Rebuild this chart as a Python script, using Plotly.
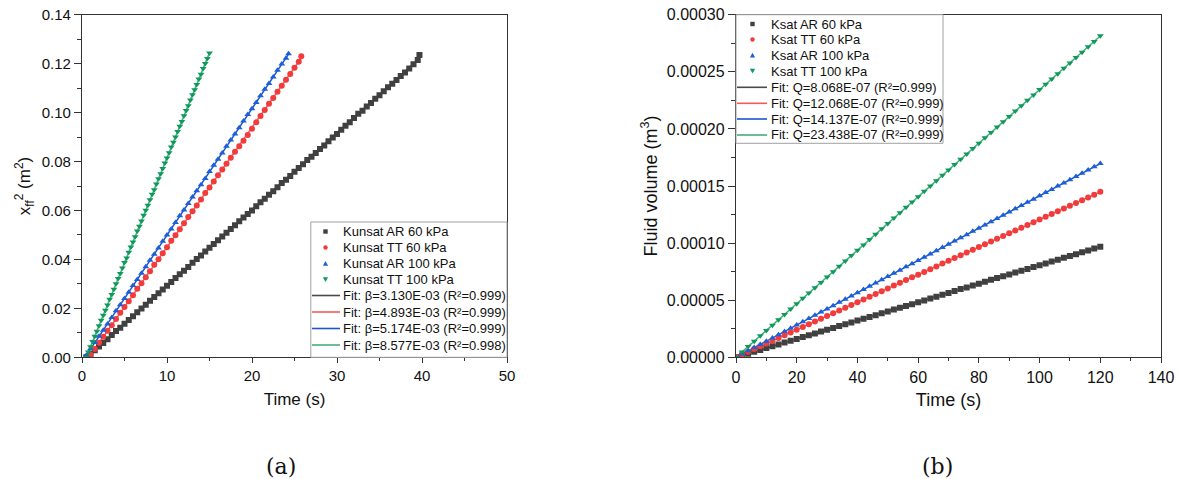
import plotly.graph_objects as go

# ---------------- Panel (a): x_ff^2 vs time ----------------
t_ar60 = [0.5, 1.0, 1.5, 2.0, 2.5, 3.0, 3.5, 4.0, 4.5, 5.0, 5.5, 6.0, 6.5, 7.0, 7.5, 8.0, 8.5, 9.0, 9.5, 10.0,
          10.5, 11.0, 11.5, 12.0, 12.5, 13.0, 13.5, 14.0, 14.5, 15.0, 15.5, 16.0, 16.5, 17.0, 17.5, 18.0, 18.5, 19.0, 19.5, 20.0,
          20.5, 21.0, 21.5, 22.0, 22.5, 23.0, 23.5, 24.0, 24.5, 25.0, 25.5, 26.0, 26.5, 27.0, 27.5, 28.0, 28.5, 29.0, 29.5, 30.0,
          30.5, 31.0, 31.5, 32.0, 32.5, 33.0, 33.5, 34.0, 34.5, 35.0, 35.5, 36.0, 36.5, 37.0, 37.5, 38.0, 38.5, 39.0, 39.5, 39.7]
x2_ar60 = [0.0000, 0.0013, 0.0029, 0.0044, 0.0058, 0.0074, 0.0091, 0.0107, 0.0121, 0.0137, 0.0152, 0.0168, 0.0184, 0.0199, 0.0215, 0.0231, 0.0246, 0.0262, 0.0277, 0.0292,
           0.0308, 0.0324, 0.0339, 0.0354, 0.0369, 0.0386, 0.0402, 0.0416, 0.0432, 0.0448, 0.0463, 0.0478, 0.0494, 0.0509, 0.0524, 0.0540, 0.0556, 0.0571, 0.0586, 0.0600,
           0.0617, 0.0634, 0.0648, 0.0664, 0.0679, 0.0695, 0.0712, 0.0726, 0.0741, 0.0758, 0.0774, 0.0789, 0.0806, 0.0820, 0.0835, 0.0851, 0.0866, 0.0883, 0.0898, 0.0912,
           0.0930, 0.0946, 0.0960, 0.0978, 0.0995, 0.1008, 0.1025, 0.1039, 0.1057, 0.1071, 0.1087, 0.1104, 0.1118, 0.1133, 0.1149, 0.1164, 0.1180, 0.1198, 0.1215, 0.1235]

t_tt60 = [1.0, 1.5, 2.0, 2.5, 3.0, 3.5, 4.0, 4.5, 5.0, 5.5, 6.0, 6.5, 7.0, 7.5, 8.0, 8.5, 9.0, 9.5, 10.0,
          10.5, 11.0, 11.5, 12.0, 12.5, 13.0, 13.5, 14.0, 14.5, 15.0, 15.5, 16.0, 16.5, 17.0, 17.5, 18.0, 18.5, 19.0, 19.5, 20.0,
          20.5, 21.0, 21.5, 22.0, 22.5, 23.0, 23.5, 24.0, 24.5, 25.0, 25.5, 25.8]
x2_tt60 = [0.0010, 0.0034, 0.0059, 0.0084, 0.0108, 0.0131, 0.0157, 0.0182, 0.0206, 0.0229, 0.0254, 0.0280, 0.0303, 0.0327, 0.0352, 0.0378, 0.0401, 0.0425, 0.0450,
           0.0476, 0.0499, 0.0523, 0.0548, 0.0573, 0.0597, 0.0620, 0.0645, 0.0671, 0.0694, 0.0718, 0.0744, 0.0767, 0.0791, 0.0815, 0.0840, 0.0862, 0.0885, 0.0908, 0.0934,
           0.0960, 0.0986, 0.1011, 0.1036, 0.1060, 0.1085, 0.1110, 0.1134, 0.1158, 0.1183, 0.1208, 0.1230]

t_ar100 = [0.5, 1.0, 1.5, 2.0, 2.5, 3.0, 3.5, 4.0, 4.5, 5.0, 5.5, 6.0, 6.5, 7.0, 7.5, 8.0, 8.5, 9.0, 9.5, 10.0,
           10.5, 11.0, 11.5, 12.0, 12.5, 13.0, 13.5, 14.0, 14.5, 15.0, 15.5, 16.0, 16.5, 17.0, 17.5, 18.0, 18.5, 19.0, 19.5, 20.0,
           20.5, 21.0, 21.5, 22.0, 22.5, 23.0, 23.5, 24.0, 24.3]
x2_ar100 = [0.0008, 0.0035, 0.0060, 0.0086, 0.0111, 0.0136, 0.0163, 0.0190, 0.0215, 0.0240, 0.0266, 0.0293, 0.0318, 0.0343, 0.0370, 0.0397, 0.0421, 0.0447, 0.0474, 0.0500,
            0.0524, 0.0551, 0.0578, 0.0602, 0.0628, 0.0655, 0.0681, 0.0705, 0.0731, 0.0759, 0.0785, 0.0809, 0.0835, 0.0862, 0.0888, 0.0912, 0.0938, 0.0966, 0.0992, 0.1016,
            0.1041, 0.1069, 0.1095, 0.1119, 0.1145, 0.1173, 0.1199, 0.1222, 0.1240]

t_tt100 = [0.50, 0.75, 1.00, 1.25, 1.50, 1.75, 2.00, 2.25, 2.50, 2.75, 3.00, 3.25, 3.50, 3.75, 4.00, 4.25, 4.50, 4.75, 5.00, 5.25,
           5.50, 5.75, 6.00, 6.25, 6.50, 6.75, 7.00, 7.25, 7.50, 7.75, 8.00, 8.25, 8.50, 8.75, 9.00, 9.25, 9.50, 9.75, 10.00, 10.25,
           10.50, 10.75, 11.00, 11.25, 11.50, 11.75, 12.00, 12.25, 12.50, 12.75, 13.00, 13.25, 13.50, 13.75, 14.00, 14.25, 14.50, 14.75, 15.00]
x2_tt100 = [0.0000, 0.0022, 0.0043, 0.0065, 0.0086, 0.0106, 0.0129, 0.0151, 0.0172, 0.0192, 0.0214, 0.0237, 0.0257, 0.0278, 0.0301, 0.0322, 0.0342, 0.0365, 0.0387, 0.0406,
            0.0429, 0.0451, 0.0471, 0.0493, 0.0516, 0.0536, 0.0557, 0.0580, 0.0601, 0.0621, 0.0644, 0.0666, 0.0685, 0.0708, 0.0730, 0.0750, 0.0772, 0.0794, 0.0814, 0.0836,
            0.0859, 0.0879, 0.0900, 0.0923, 0.0944, 0.0964, 0.0987, 0.1009, 0.1028, 0.1051, 0.1073, 0.1093, 0.1115, 0.1137, 0.1157, 0.1180, 0.1201, 0.1221, 0.1244]

names_a = ["Kunsat AR 60 kPa", "Kunsat TT 60 kPa", "Kunsat AR 100 kPa", "Kunsat TT 100 kPa"]
fit_names_a = ["Fit: β=3.130E-03 (R²=0.999)", "Fit: β=4.893E-03 (R²=0.999)",
               "Fit: β=5.174E-03 (R²=0.999)", "Fit: β=8.577E-03 (R²=0.998)"]
# fit line end points: (t_start, 0) -> (t_end, y_end)
fit_a_t0 = [0.7, 0.8, 0.35, 0.5]
fit_a_t1 = [39.6, 25.8, 24.3, 15.0]
fit_a_y1 = [0.1219, 0.1223, 0.1239, 0.1244]

# ---------------- Panel (b): fluid volume vs time ----------------
t_b = [0, 2, 4, 6, 8, 10, 12, 14, 16, 18, 20, 22, 24, 26, 28, 30, 32, 34, 36, 38, 40,
       42, 44, 46, 48, 50, 52, 54, 56, 58, 60, 62, 64, 66, 68, 70, 72, 74, 76, 78, 80,
       82, 84, 86, 88, 90, 92, 94, 96, 98, 100, 102, 104, 106, 108, 110, 112, 114, 116, 118, 120]
# volumes in units of 1e-6 m^3
v_ar60 = [0.0, 1.6, 3.1, 4.8, 6.4, 8.1, 9.7, 11.2, 12.9, 14.5, 16.0, 17.7, 19.3, 20.9, 22.5, 24.1, 25.7, 27.3, 28.9, 30.5, 32.2,
          33.8, 35.3, 36.9, 38.5, 40.1, 41.8, 43.3, 44.9, 46.5, 48.1, 49.8, 51.5, 53.1, 54.7, 56.3, 58.0, 59.7, 61.2, 62.9, 64.5,
          66.2, 67.8, 69.4, 71.0, 72.6, 74.2, 75.8, 77.4, 79.0, 80.6, 82.2, 83.9, 85.5, 87.1, 88.7, 90.3, 92.0, 93.6, 95.2, 96.9]
v_tt60 = [0.0, 2.4, 4.8, 7.2, 9.6, 12.1, 14.5, 16.9, 19.3, 21.7, 24.1, 26.5, 28.9, 31.4, 33.8, 36.2, 38.6, 41.0, 43.4, 45.9, 48.3,
          50.7, 53.1, 55.5, 57.9, 60.3, 62.8, 65.2, 67.6, 70.0, 72.3, 74.8, 77.2, 79.6, 82.1, 84.5, 86.9, 89.3, 91.7, 94.1, 96.5,
          99.0, 101.4, 103.8, 106.2, 108.6, 111.0, 113.4, 115.9, 118.3, 120.7, 123.1, 125.5, 127.9, 130.3, 132.7, 135.2, 137.6, 140.0, 142.4, 144.9]
v_ar100 = [0.0, 2.8, 5.7, 8.5, 11.3, 14.1, 17.0, 19.8, 22.6, 25.4, 28.3, 31.1, 33.9, 36.8, 39.6, 42.4, 45.2, 48.1, 50.9, 53.7, 56.5,
           59.4, 62.2, 65.0, 67.9, 70.7, 73.5, 76.3, 79.2, 82.0, 84.8, 87.6, 90.5, 93.3, 96.1, 99.0, 101.8, 104.6, 107.4, 110.3, 113.1,
           115.9, 118.8, 121.6, 124.4, 127.2, 130.1, 132.9, 135.7, 138.5, 141.4, 144.2, 147.0, 149.9, 152.7, 155.5, 158.3, 161.2, 164.0, 166.8, 169.8]
v_tt100 = [0.0, 4.7, 9.4, 14.1, 18.8, 23.4, 28.1, 32.8, 37.5, 42.2, 46.9, 51.6, 56.3, 60.9, 65.6, 70.3, 75.0, 79.7, 84.4, 89.1, 93.8,
           98.4, 103.1, 107.8, 112.5, 117.2, 121.9, 126.6, 131.3, 135.9, 140.6, 145.3, 150.0, 154.7, 159.4, 164.1, 168.8, 173.4, 178.1, 182.8, 187.5,
           192.2, 196.9, 201.6, 206.3, 210.9, 215.6, 220.3, 225.0, 229.7, 234.4, 239.1, 243.8, 248.4, 253.1, 257.8, 262.5, 267.2, 271.9, 276.6, 281.5]

names_b = ["Ksat AR 60 kPa", "Ksat TT 60 kPa", "Ksat AR 100 kPa", "Ksat TT 100 kPa"]
fit_names_b = ["Fit: Q=8.068E-07 (R²=0.999)", "Fit: Q=12.068E-07 (R²=0.999)",
               "Fit: Q=14.137E-07 (R²=0.999)", "Fit: Q=23.438E-07 (R²=0.999)"]
fit_b_t1 = [120, 120, 120, 120]
fit_b_v1 = [96.8, 144.8, 169.6, 281.3]

# ---------------- styles ----------------
marker_colors = ["#404040", "#f23b3b", "#1c5fd8", "#0e9a5b"]
line_colors = ["#4a4a4a", "#f45a5a", "#1d56cc", "#47ad76"]
symbols = ["square", "circle", "triangle-up", "triangle-down"]
msizes = [6, 6, 6, 6]

FONT = "Liberation Sans, Arial, sans-serif"
SERIF = "DejaVu Serif, Liberation Serif, serif"
AX = "#333333"
W, H = 1180, 479


def px(x):
    return x / W


def py(y):
    return 1 - y / H


fig = go.Figure()

data_a = [(t_ar60, x2_ar60), (t_tt60, x2_tt60), (t_ar100, x2_ar100), (t_tt100, x2_tt100)]
for i in range(4):
    fig.add_trace(go.Scatter(x=[fit_a_t0[i], fit_a_t1[i]], y=[0, fit_a_y1[i]], mode="lines", name=fit_names_a[i],
                             showlegend=False, line=dict(color=line_colors[i], width=1.5),
                             xaxis="x", yaxis="y"))
for i, (tt, yy) in enumerate(data_a):
    fig.add_trace(go.Scatter(x=tt, y=yy, mode="markers", name=names_a[i], showlegend=False,
                             marker=dict(symbol=symbols[i], size=msizes[i], color=marker_colors[i], line=dict(width=0)),
                             xaxis="x", yaxis="y"))

data_b = [v_ar60, v_tt60, v_ar100, v_tt100]
for i in range(4):
    fig.add_trace(go.Scatter(x=[0, fit_b_t1[i]], y=[0, fit_b_v1[i] * 1e-6], mode="lines", name=fit_names_b[i],
                             showlegend=False, line=dict(color=line_colors[i], width=1.5),
                             xaxis="x2", yaxis="y2"))
for i, vv in enumerate(data_b):
    fig.add_trace(go.Scatter(x=t_b, y=[v * 1e-6 for v in vv], mode="markers", name=names_b[i], showlegend=False,
                             marker=dict(symbol=symbols[i], size=msizes[i], color=marker_colors[i], line=dict(width=0)),
                             xaxis="x2", yaxis="y2"))

# plot areas (pixels)
A_L, A_R, B_L, B_R = 82, 507, 736, 1161
TOP, BOT = 14.7, 357.3
ydom = [py(BOT), py(TOP)]


def axis(fs, **kw):
    d = dict(showline=True, linecolor=AX, linewidth=1.3, mirror=True, ticks="outside",
             tickwidth=1.2, tickcolor=AX, showgrid=False, zeroline=False, automargin=False,
             tickfont=dict(family=FONT, size=fs, color="#111111"),
             title_font=dict(family=FONT, size=fs + 2, color="#111111"))
    d.update(kw)
    return d


shapes = []
annotations = []


def add_legend(box, rows, line_x, mark_x, text_x, labels):
    x0, y0, x1, y1 = box
    shapes.append(dict(type="rect", xref="paper", yref="paper", x0=px(x0), x1=px(x1), y0=py(y1), y1=py(y0),
                       line=dict(color="#a0a0a0", width=1), fillcolor="white", layer="above"))
    for i in range(8):
        yc = rows[i]
        if i < 4:
            c = marker_colors[i]
            s = 2.2
            if symbols[i] == "square":
                shapes.append(dict(type="rect", xref="paper", yref="paper", x0=px(mark_x - s), x1=px(mark_x + s),
                                   y0=py(yc + s), y1=py(yc - s), line=dict(width=0), fillcolor=c, layer="above"))
            elif symbols[i] == "circle":
                shapes.append(dict(type="circle", xref="paper", yref="paper", x0=px(mark_x - s), x1=px(mark_x + s),
                                   y0=py(yc + s), y1=py(yc - s), line=dict(width=0), fillcolor=c, layer="above"))
            else:
                d = -1 if symbols[i] == "triangle-up" else 1
                p = "M %f %f L %f %f L %f %f Z" % (px(mark_x - 2.6), py(yc - d * 2.2), px(mark_x + 2.6), py(yc - d * 2.2),
                                                  px(mark_x), py(yc + d * 2.6))
                shapes.append(dict(type="path", xref="paper", yref="paper", path=p, line=dict(width=0),
                                   fillcolor=c, layer="above"))
        else:
            shapes.append(dict(type="line", xref="paper", yref="paper", x0=px(line_x[0]), x1=px(line_x[1]),
                               y0=py(yc), y1=py(yc), line=dict(color=line_colors[i - 4], width=1.6), layer="above"))
        annotations.append(dict(text=labels[i], xref="paper", yref="paper", x=px(text_x), y=py(yc),
                                xanchor="left", yanchor="middle", showarrow=False, borderpad=0,
                                font=dict(family=FONT, size=13, color="#111111")))


add_legend((310.8, 222, A_R, BOT), [231.5, 247.5, 263.5, 279.5, 295.5, 312, 328.5, 345],
           (312, 340), 325.5, 342, names_a + fit_names_a)
add_legend((B_L, TOP, 943, 143.3), [24, 39.5, 55.3, 71, 87.3, 103.3, 119, 135],
           (737, 767), 752.5, 770, names_b + fit_names_b)

annotations.append(dict(text="(a)", x=px(281), y=py(466), xref="paper", yref="paper", showarrow=False,
                        xanchor="center", yanchor="middle", font=dict(family=SERIF, size=22, color="#111111")))
annotations.append(dict(text="(b)", x=px(937), y=py(466), xref="paper", yref="paper", showarrow=False,
                        xanchor="center", yanchor="middle", font=dict(family=SERIF, size=22, color="#111111")))

fig.update_layout(
    width=W, height=H,
    margin=dict(l=0, r=0, t=0, b=0),
    paper_bgcolor="white", plot_bgcolor="white",
    font=dict(family=FONT, color="#111111"),
    showlegend=False,
    xaxis=axis(15, domain=[px(A_L), px(A_R)], range=[0, 50], dtick=10, anchor="y", ticklen=5,
               minor=dict(ticks="outside", ticklen=3, dtick=5, tickcolor=AX, tickwidth=1),
               title=dict(text="Time (s)", standoff=9)),
    yaxis=axis(15, domain=ydom, range=[0, 0.14], dtick=0.02, tickformat=".2f", anchor="x", ticklen=7,
               minor=dict(ticks="outside", ticklen=3.5, dtick=0.01, tickcolor=AX, tickwidth=1),
               title=dict(text="x<sub>ff</sub><sup>2</sup> (m<sup>2</sup>)", standoff=6)),
    xaxis2=axis(16, domain=[px(B_L), px(B_R)], range=[0, 140], dtick=20, anchor="y2", ticklen=5,
                minor=dict(ticks="outside", ticklen=3, dtick=10, tickcolor=AX, tickwidth=1),
                title=dict(text="Time (s)", standoff=8)),
    yaxis2=axis(16, domain=ydom, range=[0, 0.0003], dtick=0.00005, tickformat=".5f", anchor="x2", ticklen=7,
                minor=dict(ticks="outside", ticklen=3.5, dtick=0.000025, tickcolor=AX, tickwidth=1),
                title=dict(text="Fluid volume (m<sup>3</sup>)", standoff=4)),
    shapes=shapes,
    annotations=annotations,
)

fig.write_html("out.html", config={"displayModeBar": False},
               post_script="document.body.style.margin='0px';document.body.style.padding='0px';")
